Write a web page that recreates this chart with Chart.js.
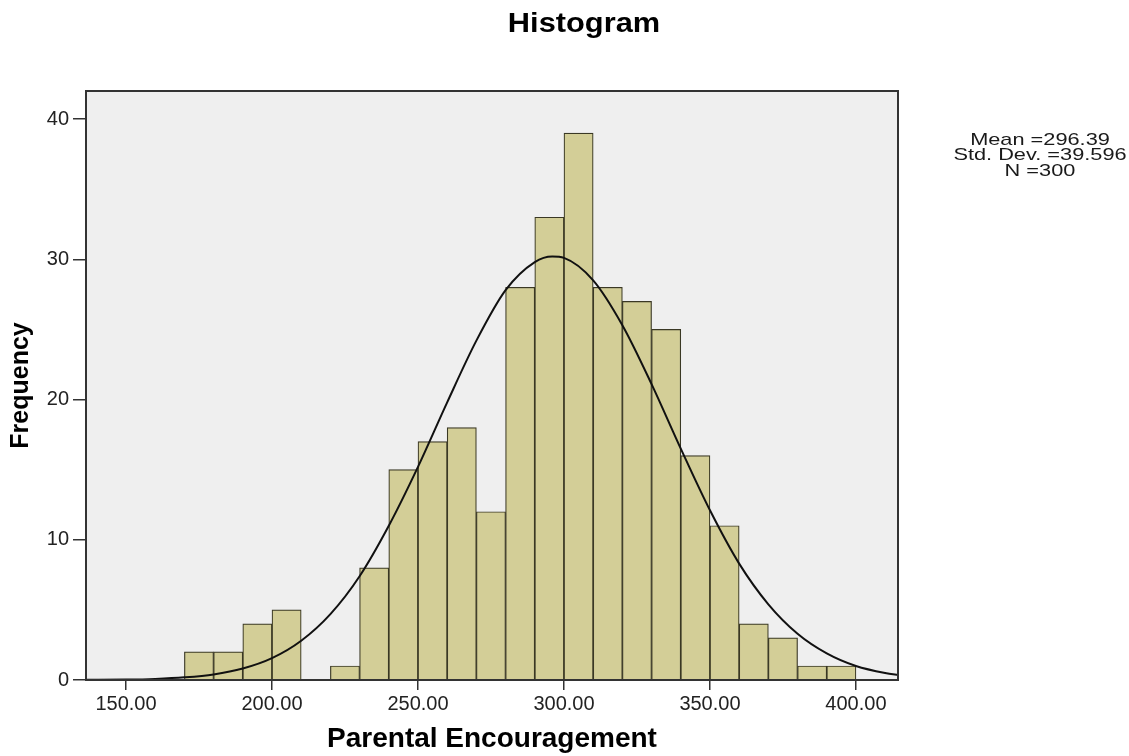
<!DOCTYPE html>
<html>
<head>
<meta charset="utf-8">
<title>Histogram</title>
<script src="https://cdn.jsdelivr.net/npm/chart.js@4.4.1/dist/chart.umd.min.js"></script>
<style>
  html, body { margin: 0; padding: 0; background: #fff; }
  #wrap { width: 1129px; height: 756px; position: relative; }
</style>
</head>
<body>
<div id="wrap"><canvas id="hist"></canvas></div>
<script>
(function () {
  'use strict';

  // bin centres (width 10) and counts
  const BIN_CENTERS = [175, 185, 195, 205, 225, 235, 245, 255, 265, 275, 285, 295, 305, 315, 325, 335, 345, 355, 365, 375, 385, 395];
  const FREQ = [2, 2, 4, 5, 1, 8, 15, 17, 18, 12, 28, 33, 39, 28, 27, 25, 16, 11, 4, 3, 1, 1];

  // normal curve as traced on the picture
  const CURVE_X = [136, 150, 160, 170, 180, 190, 200, 210, 220, 230, 240, 250, 260, 270, 280, 290, 296, 300, 310, 320, 330, 340, 350, 360, 370, 380, 390, 400, 410, 415];
  const CURVE_Y = [0.01, 0.03, 0.08, 0.19, 0.4, 0.82, 1.56, 2.8, 4.7, 7.4, 11.0, 15.2, 19.8, 24.2, 27.8, 29.8, 30.2, 30.1, 28.5, 25.3, 21.1, 16.5, 12.1, 8.3, 5.4, 3.3, 1.9, 1.0, 0.5, 0.35];

  const X_TICKS = [150, 200, 250, 300, 350, 400];
  const Y_TICKS = [0, 10, 20, 30, 40];
  const STATS = ['Mean =296.39', 'Std. Dev. =39.596', 'N =300'];

  const FONT = '"Liberation Sans", Arial, sans-serif';
  const BAR_FILL = '#d3ce97';
  const BAR_EDGE = '#3a3824';
  const AXIS = '#333';

  const plotFrame = {
    id: 'plotFrame',
    beforeDatasetsDraw(chart) {
      const { ctx, chartArea: a } = chart;
      ctx.save();
      ctx.fillStyle = '#efefef';
      ctx.fillRect(a.left, a.top, a.right - a.left, a.bottom - a.top);
      ctx.restore();
    },
    afterDraw(chart) {
      const { ctx, chartArea: a } = chart;
      ctx.save();
      ctx.strokeStyle = AXIS;
      ctx.lineWidth = 2;
      ctx.strokeRect(a.left, a.top, a.right - a.left, a.bottom - a.top);

      ctx.fillStyle = '#000';
      ctx.textAlign = 'center';
      ctx.textBaseline = 'middle';
      ctx.font = 'bold 28px ' + FONT;
      ctx.translate(584, 24);
      ctx.scale(1.1, 1);
      ctx.fillText('Histogram', 0, 0);
      ctx.restore();

      ctx.save();
      ctx.fillStyle = '#1a1a1a';
      ctx.textAlign = 'center';
      ctx.textBaseline = 'middle';
      ctx.font = '17px ' + FONT;
      STATS.forEach((s, i) => {
        ctx.save();
        ctx.translate(1040, 140 + i * 15.5);
        ctx.scale(1.28, 1);
        ctx.fillText(s, 0, 0);
        ctx.restore();
      });
      ctx.restore();
    }
  };

  function init() {
    const ctx = document.getElementById('hist');
    new Chart(ctx, {
      type: 'bar',
      data: {
        datasets: [
          {
            type: 'line',
            data: CURVE_X.map((x, i) => ({ x, y: CURVE_Y[i] })),
            borderColor: '#111',
            borderWidth: 2,
            pointRadius: 0,
            cubicInterpolationMode: 'monotone',
            fill: false,
            order: 0,
          },
          {
            type: 'bar',
            data: BIN_CENTERS.map((x, i) => ({ x, y: FREQ[i] })),
            backgroundColor: BAR_FILL,
            borderColor: BAR_EDGE,
            borderWidth: 1.2,
            barPercentage: 1,
            categoryPercentage: 1,
            order: 1,
          },
        ],
      },
      options: {
        responsive: true,
        maintainAspectRatio: false,
        animation: false,
        layout: { padding: { top: 91, right: 231, left: 0, bottom: 0 } },
        plugins: {
          legend: { display: false },
          title: { display: false },
          tooltip: { enabled: false },
        },
        scales: {
          x: {
            type: 'linear',
            offset: false,
            min: 136.3,
            max: 414.4,
            afterBuildTicks: s => { s.ticks = X_TICKS.map(v => ({ value: v })); },
            afterFit: s => { s.height = 76; },
            ticks: {
              callback: v => v.toFixed(2),
              color: '#222',
              font: { family: FONT, size: 20 },
              padding: 2,
              maxRotation: 0,
            },
            grid: { offset: false, drawOnChartArea: false, tickLength: 10, color: AXIS, lineWidth: 1.5 },
            border: { color: AXIS, width: 2 },
            title: {
              display: true,
              text: 'Parental Encouragement',
              color: '#000',
              font: { family: FONT, size: 28, weight: 'bold' },
              padding: { top: 0, bottom: 0 },
            },
          },
          y: {
            min: 0,
            max: 42,
            afterBuildTicks: s => { s.ticks = Y_TICKS.map(v => ({ value: v })); },
            afterFit: s => { s.width = 86; },
            ticks: {
              color: '#222',
              font: { family: FONT, size: 20 },
              padding: 4,
            },
            grid: { drawOnChartArea: false, tickLength: 13, color: AXIS, lineWidth: 1.5 },
            border: { color: AXIS, width: 2 },
            title: {
              display: true,
              text: 'Frequency',
              color: '#000',
              font: { family: FONT, size: 25, weight: 'bold' },
              padding: { top: 6, bottom: 0 },
            },
          },
        },
      },
      plugins: [plotFrame],
    });
  }

  document.readyState === 'loading'
    ? document.addEventListener('DOMContentLoaded', init)
    : init();
})();
</script>
</body>
</html>
